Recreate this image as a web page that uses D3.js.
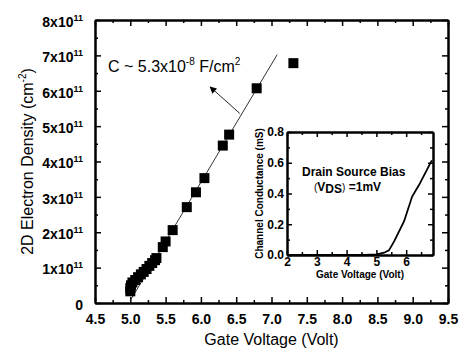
<!DOCTYPE html>
<html>
<head>
<meta charset="utf-8">
<script src="https://cdn.jsdelivr.net/npm/d3@7"></script>
<style>
  body { margin: 0; background: #fff; }
  svg { font-family: "Liberation Sans", Arial, sans-serif; }
  .domain { stroke: #000; stroke-width: 2; }
  .tick line { stroke: #000; stroke-width: 1.5; }
</style>
</head>
<body>
<div id="chart"></div>
<script>
// main plot: gate voltage (V) vs 2D electron density (x1e11 cm^-2)
const gateV = [5.00, 5.00, 5.01, 5.03, 5.07, 5.11, 5.15, 5.19, 5.23, 5.27, 5.31, 5.35, 5.37,
               5.46, 5.50, 5.60, 5.80, 5.93, 6.05, 6.31, 6.40, 6.79, 7.31];
const density = [0.33, 0.42, 0.50, 0.58, 0.65, 0.73, 0.81, 0.88, 0.96, 1.05, 1.13, 1.21, 1.27,
                 1.58, 1.74, 2.06, 2.71, 3.13, 3.53, 4.45, 4.76, 6.07, 6.78];
// linear fit and arrow (data coords)
const fitV = [5.00, 7.08];
const fitN = [0.07, 7.02];
const arrowV = [6.55, 6.13];
const arrowN = [5.36, 6.11];

const xTicks = [4.5, 5.0, 5.5, 6.0, 6.5, 7.0, 7.5, 8.0, 8.5, 9.0, 9.5];
const yTicks = [0, 1, 2, 3, 4, 5, 6, 7, 8];

// inset: channel conductance (mS) vs gate voltage
const insetV = [2, 3, 4, 4.6, 5.0, 5.26, 5.42, 5.6, 5.93, 6.2, 6.43, 6.86];
const insetG = [0, 0, 0, 0.001, 0.004, 0.015, 0.03, 0.09, 0.22, 0.38, 0.455, 0.615];
const insetXTicks = [2, 3, 4, 5, 6];
const insetYTicks = [0, 0.2, 0.4, 0.6, 0.8];

const W = 461, H = 349;
const m = { left: 95, right: 448, top: 20, bottom: 303 };

const svg = d3.select("#chart").append("svg")
    .attr("width", W)
    .attr("height", H);

const x = d3.scaleLinear().domain([4.5, 9.5]).range([m.left, m.right]);
const y = d3.scaleLinear().domain([0, 8]).range([m.bottom, m.top]);

const fmt1 = d3.format(".1f");
const minorX = d3.range(4.75, 9.5, 0.5);
const minorY = d3.range(0.5, 8, 1);

// minor ticks first, then major ticks with the frame
svg.append("g").attr("transform", `translate(0,${m.bottom})`)
    .call(d3.axisBottom(x).tickValues(minorX).tickSize(-3).tickSizeOuter(0).tickFormat(""));
svg.append("g").attr("transform", `translate(0,${m.top})`)
    .call(d3.axisTop(x).tickValues(minorX).tickSize(-3).tickSizeOuter(0).tickFormat(""));
svg.append("g").attr("transform", `translate(${m.left},0)`)
    .call(d3.axisLeft(y).tickValues(minorY).tickSize(-3).tickSizeOuter(0).tickFormat(""));
svg.append("g").attr("transform", `translate(${m.right},0)`)
    .call(d3.axisRight(y).tickValues(minorY).tickSize(-3).tickSizeOuter(0).tickFormat(""));

svg.append("g").attr("transform", `translate(0,${m.top})`)
    .call(d3.axisTop(x).tickValues(xTicks).tickSize(-6).tickSizeOuter(0).tickFormat(""));
svg.append("g").attr("transform", `translate(${m.right},0)`)
    .call(d3.axisRight(y).tickValues(yTicks).tickSize(-6).tickSizeOuter(0).tickFormat(""));

const xAxis = svg.append("g").attr("transform", `translate(0,${m.bottom})`)
    .call(d3.axisBottom(x).tickValues(xTicks).tickSize(-6).tickSizeOuter(0).tickPadding(11).tickFormat(fmt1));
xAxis.selectAll(".tick text")
    .attr("fill", "#000")
    .style("font-size", "14px")
    .style("font-weight", "bold");

const yAxis = svg.append("g").attr("transform", `translate(${m.left},0)`)
    .call(d3.axisLeft(y).tickValues(yTicks).tickSize(-6).tickSizeOuter(0).tickPadding(12).tickFormat(""));
yAxis.selectAll(".tick text")
    .attr("fill", "#000")
    .attr("dy", "0.45em")
    .style("font-size", "14px")
    .style("font-weight", "bold")
    .each(function(d) {
        const t = d3.select(this);
        if (d === 0) { t.text("0"); return; }
        t.append("tspan").text(d + "x10");
        t.append("tspan").attr("dy", -6).style("font-size", "9px").text("11");
    });

// fit line
svg.append("line")
    .attr("x1", x(fitV[0])).attr("y1", y(fitN[0]))
    .attr("x2", x(fitV[1])).attr("y2", y(fitN[1]))
    .attr("stroke", "#333").attr("stroke-width", 1);

// data squares
const sq = 10;
svg.selectAll(".pt")
    .data(gateV.map((v, i) => [v, density[i]]))
    .join("rect")
    .attr("class", "pt")
    .attr("x", d => x(d[0]) - sq / 2)
    .attr("y", d => y(d[1]) - sq / 2)
    .attr("width", sq)
    .attr("height", sq)
    .attr("fill", "#000");

// arrow
svg.append("defs").append("marker")
    .attr("id", "head")
    .attr("viewBox", "0 0 10 10")
    .attr("refX", 9).attr("refY", 5)
    .attr("markerWidth", 9).attr("markerHeight", 7)
    .attr("markerUnits", "userSpaceOnUse")
    .attr("orient", "auto")
    .append("path").attr("d", "M0,0 L10,5 L0,10 z").attr("fill", "#000");

svg.append("line")
    .attr("x1", x(arrowV[0])).attr("y1", y(arrowN[0]))
    .attr("x2", x(arrowV[1])).attr("y2", y(arrowN[1]))
    .attr("stroke", "#222").attr("stroke-width", 1)
    .attr("marker-end", "url(#head)");

// capacitance label
const cap = svg.append("text")
    .attr("x", 108).attr("y", 72)
    .style("font-size", "16px");
cap.append("tspan").text("C ~ 5.3x10");
cap.append("tspan").attr("dy", -7).style("font-size", "10px").text("-8");
cap.append("tspan").attr("dy", 7).text(" F/cm");
cap.append("tspan").attr("dy", -7).style("font-size", "10px").text("2");

// axis titles
const yt = svg.append("text")
    .attr("transform", `translate(33,${(m.top + m.bottom) / 2}) rotate(-90)`)
    .attr("text-anchor", "middle")
    .style("font-size", "16px");
yt.append("tspan").text("2D Electron Density (cm");
yt.append("tspan").attr("dy", -7).style("font-size", "10px").text("-2");
yt.append("tspan").attr("dy", 7).text(")");

svg.append("text")
    .attr("x", (m.left + m.right) / 2).attr("y", 345)
    .attr("text-anchor", "middle")
    .style("font-size", "16px")
    .text("Gate Voltage (Volt)");

// ---------- inset ----------
const im = { left: 287, right: 433, top: 132, bottom: 255 };
const ix = d3.scaleLinear().domain([2, 6.9]).range([im.left, im.right]);
const iy = d3.scaleLinear().domain([0, 0.8]).range([im.bottom, im.top]);

const inset = svg.append("g");
inset.append("rect")
    .attr("x", im.left).attr("y", im.top)
    .attr("width", im.right - im.left).attr("height", im.bottom - im.top)
    .attr("fill", "#fff");

const iMinorX = d3.range(2.5, 6.9, 1);
const iMinorY = d3.range(0.1, 0.8, 0.2);

inset.append("g").attr("transform", `translate(0,${im.bottom})`)
    .call(d3.axisBottom(ix).tickValues(iMinorX).tickSize(-3).tickSizeOuter(0).tickFormat(""));
inset.append("g").attr("transform", `translate(0,${im.top})`)
    .call(d3.axisTop(ix).tickValues(iMinorX).tickSize(-3).tickSizeOuter(0).tickFormat(""));
inset.append("g").attr("transform", `translate(${im.left},0)`)
    .call(d3.axisLeft(iy).tickValues(iMinorY).tickSize(-3).tickSizeOuter(0).tickFormat(""));
inset.append("g").attr("transform", `translate(${im.right},0)`)
    .call(d3.axisRight(iy).tickValues(iMinorY).tickSize(-3).tickSizeOuter(0).tickFormat(""));

inset.append("g").attr("transform", `translate(0,${im.top})`)
    .call(d3.axisTop(ix).tickValues(insetXTicks).tickSize(-5).tickSizeOuter(0).tickFormat(""));
inset.append("g").attr("transform", `translate(${im.right},0)`)
    .call(d3.axisRight(iy).tickValues(insetYTicks).tickSize(-5).tickSizeOuter(0).tickFormat(""));

const ixAxis = inset.append("g").attr("transform", `translate(0,${im.bottom})`)
    .call(d3.axisBottom(ix).tickValues(insetXTicks).tickSize(-5).tickSizeOuter(0).tickPadding(2).tickFormat(d3.format("d")));
ixAxis.selectAll(".tick text")
    .attr("fill", "#000")
    .style("font-size", "12px")
    .style("font-weight", "bold");

const iyAxis = inset.append("g").attr("transform", `translate(${im.left},0)`)
    .call(d3.axisLeft(iy).tickValues(insetYTicks).tickSize(-5).tickSizeOuter(0).tickPadding(3).tickFormat(fmt1));
iyAxis.selectAll(".tick text")
    .attr("fill", "#000")
    .style("font-size", "12px")
    .style("font-weight", "bold");

inset.append("path")
    .datum(insetV.map((v, i) => [v, insetG[i]]))
    .attr("fill", "none")
    .attr("stroke", "#000")
    .attr("stroke-width", 1.8)
    .attr("d", d3.line().x(d => ix(d[0])).y(d => iy(d[1])));

inset.append("text")
    .attr("x", (im.left + im.right) / 2).attr("y", 278)
    .attr("text-anchor", "middle")
    .style("font-size", "10px").style("font-weight", "bold")
    .text("Gate Voltage (Volt)");

inset.append("text")
    .attr("transform", `translate(263,${(im.top + im.bottom) / 2}) rotate(-90)`)
    .attr("text-anchor", "middle")
    .style("font-size", "10px").style("font-weight", "bold")
    .text("Channel Conductance (mS)");

inset.append("text")
    .attr("x", 302).attr("y", 176)
    .style("font-size", "12px").style("font-weight", "bold")
    .text("Drain Source Bias");

const vds = inset.append("text")
    .attr("x", 314).attr("y", 191)
    .style("font-size", "12px").style("font-weight", "bold");
vds.append("tspan").style("font-weight", "normal").style("font-size", "10px").text("(");
vds.append("tspan").text("V");
vds.append("tspan").attr("dy", 2).text("DS");
vds.append("tspan").attr("dy", -2).style("font-weight", "normal").style("font-size", "10px").text(")");
vds.append("tspan").text(" =1mV");
</script>
</body>
</html>
